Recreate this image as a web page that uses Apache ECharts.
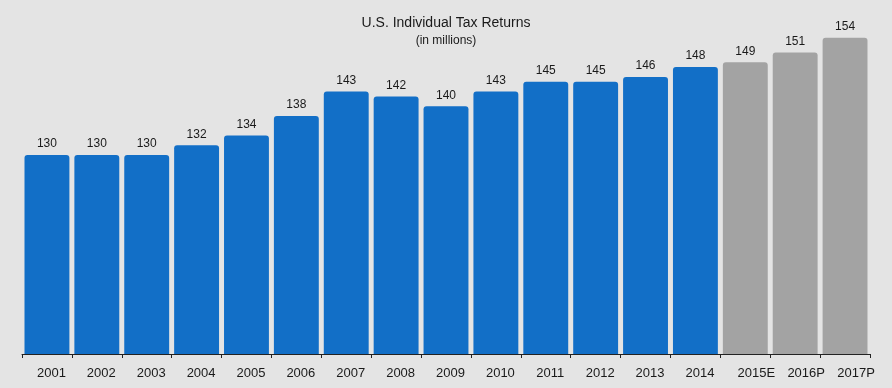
<!DOCTYPE html>
<html>
<head>
<meta charset="utf-8">
<script src="https://cdn.jsdelivr.net/npm/echarts@6/dist/echarts.min.js"></script>
<style>
html,body{margin:0;padding:0;background:#e4e4e4;}
#c{width:892px;height:388px;}
</style>
</head>
<body>
<div id="c"></div>
<script>
var categories = ['2001','2002','2003','2004','2005','2006','2007','2008','2009','2010','2011','2012','2013','2014','2015E','2016P','2017P'];
var values = [130,130,130,132,134,138,143,142,140,143,145,145,146,148,149,151,154];
var estimated = [false,false,false,false,false,false,false,false,false,false,false,false,false,false,true,true,true];

var BLUE = '#126fc7', GRAY = '#a3a3a3';
var chart = echarts.init(document.getElementById('c'));
chart.setOption({
  backgroundColor: '#e4e4e4',
  animation: false,
  title: {
    text: 'U.S. Individual Tax Returns',
    subtext: '(in millions)',
    left: 'center',
    top: 11,
    itemGap: 5,
    textStyle: {fontFamily: 'Liberation Sans, Arial, sans-serif', fontSize: 14, fontWeight: 'normal', color: '#1a1a1a'},
    subtextStyle: {fontFamily: 'Liberation Sans, Arial, sans-serif', fontSize: 12, color: '#1a1a1a'}
  },
  grid: {left: 22, right: 22, top: 28, bottom: 34},
  xAxis: {
    type: 'category',
    data: categories,
    axisLine: {lineStyle: {color: '#222', width: 1}},
    axisTick: {show: true, length: 4, lineStyle: {color: '#222'}},
    axisLabel: {
      margin: 13,
      interval: 0,
      formatter: function (v, i) { return estimated[i] ? '{b|' + v + '}' : '{a|' + v + '}'; },
      rich: {
        a: {fontFamily: 'Liberation Sans, Arial, sans-serif', fontSize: 13, color: '#1a1a1a', padding: [0, 0, 0, 9]},
        b: {fontFamily: 'Liberation Sans, Arial, sans-serif', fontSize: 13, color: '#1a1a1a', padding: [0, 0, 0, 22]}
      }
    }
  },
  yAxis: {
    type: 'value',
    min: 89.3,
    max: 156,
    show: false,
    splitLine: {show: false}
  },
  series: [{
    type: 'bar',
    barCategoryGap: '10%',
    data: values.map(function (v, i) {
      return {value: v, itemStyle: {color: estimated[i] ? GRAY : BLUE}};
    }),
    itemStyle: {borderRadius: [3, 3, 0, 0]},
    label: {
      show: true,
      position: 'top',
      distance: 5,
      fontFamily: 'Liberation Sans, Arial, sans-serif',
      fontSize: 12,
      color: '#1a1a1a'
    }
  }]
});
</script>
</body>
</html>
